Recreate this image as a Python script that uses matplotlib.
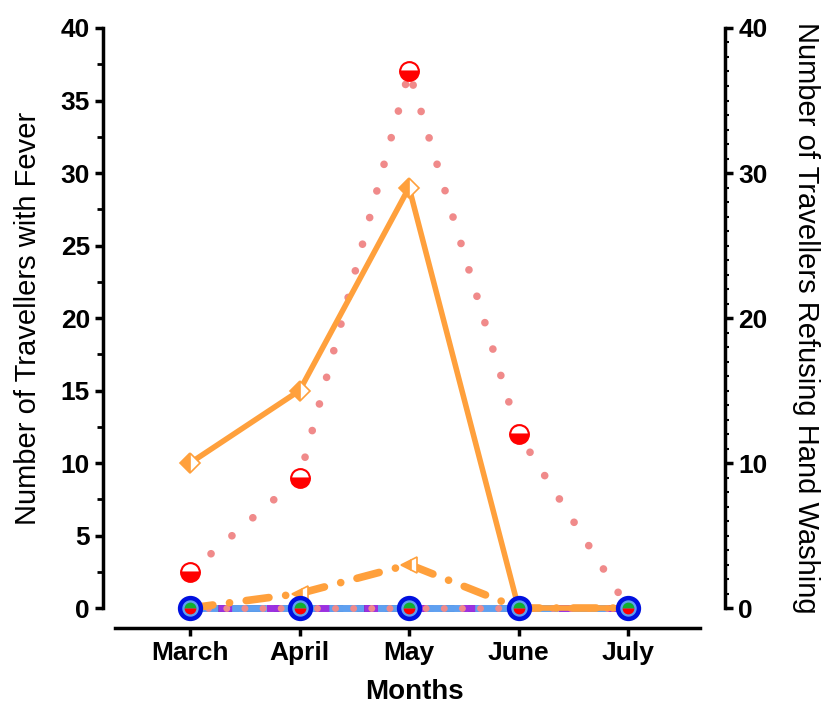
import matplotlib
matplotlib.use('Agg')
import matplotlib.pyplot as plt
from matplotlib.ticker import MultipleLocator

plt.rcParams['font.family'] = ['Liberation Sans', 'DejaVu Sans']

months = ['March', 'April', 'May', 'June', 'July']
fever_red = [2.5, 9, 37, 12, 0]
fever_orange = [10, 15, 29, 0, 0]
refuse_orange = [0, 1, 3, 0, 0]
zero_a = [0, 0, 0, 0, 0]
zero_b = [0, 0, 0, 0, 0]
zero_c = [0, 0, 0, 0, 0]

x = list(range(len(months)))

fig = plt.figure(figsize=(8.28, 7.07), dpi=100)
ax = fig.add_axes([0.1245, 0.140, 0.7511, 0.8204])

orange = '#FFA03C'
pink = '#F08A8A'

# zero series (stacked on the baseline)
ax.plot(x[:4], zero_a[:4], color='black', lw=5, ls=(0, (2, 2)), zorder=2, clip_on=False)
ax.plot(x, zero_b, color='#9B30E0', lw=5, ls=(3, (3, 4)), zorder=2, clip_on=False)
ax.plot(x, zero_c, color='#5FA0F0', lw=5, ls=(1, (5, 2)), zorder=2, clip_on=False)
ax.plot(x, zero_a, color=pink, lw=5, ls=(0, (0.01, 2.6)), dash_capstyle='round', zorder=3,
        clip_on=False)

# red dotted series
ax.plot(x, fever_red, color=pink, lw=5.5, ls=(0, (0.01, 3.6)), dash_capstyle='round', zorder=4,
        clip_on=False)
ax.plot(x[:4], fever_red[:4], ls='none', marker='o', ms=13.5, color='red', mec='red',
        fillstyle='bottom', markerfacecoloralt='white', mew=1.5, zorder=6)

# orange solid
ax.plot(x, fever_orange, color=orange, lw=4, zorder=5, clip_on=False)
ax.plot(x[:3], fever_orange[:3], ls='none', marker='D', ms=10.5, color=orange, mec=orange,
        fillstyle='left', markerfacecoloralt='white', mew=1.2, zorder=6)

# orange dash-dot
ax.plot(x, refuse_orange, color=orange, lw=5.5, ls=(0, (3, 2.2, 0.01, 2.2)),
        dash_capstyle='round', zorder=4, clip_on=False)
ax.plot(x[1:3], refuse_orange[1:3], ls='none', marker='<', ms=11, color=orange, mec=orange,
        fillstyle='left', markerfacecoloralt='white', mew=1.2, zorder=6)

# baseline markers
ax.plot(x, zero_c, ls='none', marker='o', ms=15, mfc='#5FA0F0', mec='#0010E0', mew=3.2,
        zorder=7, clip_on=False)
ax.plot(x, zero_b, ls='none', marker='o', ms=8.5, color='#10B030', mec='none',
        fillstyle='top', markerfacecoloralt='red', zorder=8, clip_on=False)

ax.set_xlim(-0.795, 4.886)
ax.set_ylim(0, 40)
ax.set_xticks(x)
ax.set_xticklabels(months)
ax.yaxis.set_major_locator(MultipleLocator(5))
ax.yaxis.set_minor_locator(MultipleLocator(2.5))

for s in ['top', 'right']:
    ax.spines[s].set_visible(False)
ax.spines['left'].set_linewidth(2.5)
ax.spines['bottom'].set_linewidth(2.5)
ax.spines['bottom'].set_position(('outward', 14.4))
ax.spines['bottom'].set_bounds(-0.685, 4.658)

ax.tick_params(axis='both', which='major', width=2.5, length=6, labelsize=19, direction='out')
ax.tick_params(axis='y', which='minor', width=2, length=4)
for lab in ax.get_xticklabels() + ax.get_yticklabels():
    lab.set_fontweight('bold')

ax.set_xlabel('Months', fontsize=20, fontweight='bold', labelpad=10)
ax.set_ylabel('Number of Travellers with Fever', fontsize=21, labelpad=13)

ax2 = ax.twinx()
ax2.set_ylim(0, 40)
ax2.yaxis.set_major_locator(MultipleLocator(10))
ax2.yaxis.set_minor_locator(MultipleLocator(1))
for s in ['top', 'left', 'bottom']:
    ax2.spines[s].set_visible(False)
ax2.spines['right'].set_linewidth(2.5)
ax2.tick_params(axis='y', which='major', width=2.5, length=6, labelsize=19)
ax2.tick_params(axis='y', which='minor', width=1.5, length=3)
for lab in ax2.get_yticklabels():
    lab.set_fontweight('bold')
ax2.set_ylabel('Number of Travellers Refusing Hand Washing', fontsize=21, rotation=270,
               labelpad=38)

fig.savefig('out.png', dpi=100)
